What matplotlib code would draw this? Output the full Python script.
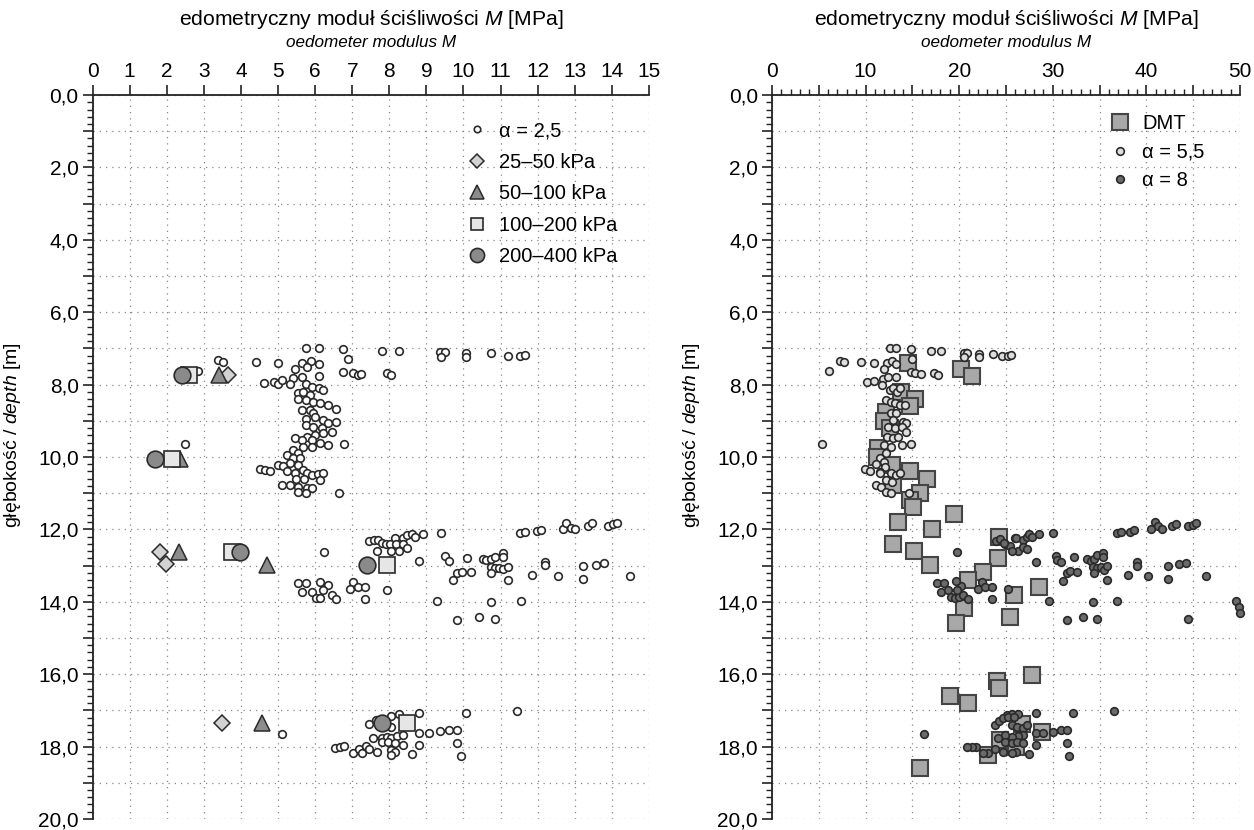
import matplotlib
matplotlib.use('Agg')
import matplotlib.pyplot as plt
from matplotlib.ticker import MultipleLocator, FuncFormatter
import numpy as np

plt.rcParams['font.family'] = ['Liberation Sans', 'DejaVu Sans']
plt.rcParams['mathtext.fontset'] = 'custom'
plt.rcParams['mathtext.rm'] = 'Liberation Sans'
plt.rcParams['mathtext.it'] = 'Liberation Sans:italic'

# (M [MPa], depth [m])
alpha25 = [
    (5.75, 7.00), (6.11, 7.00), (6.76, 7.03), (7.79, 7.06), (8.25, 7.06), (9.37, 7.10), (9.50, 7.10),
    (9.39, 7.25), (10.07, 7.14), (10.07, 7.25), (10.73, 7.14), (11.21, 7.21), (11.52, 7.21), (11.66, 7.17),
    (3.39, 7.32), (3.51, 7.37), (4.41, 7.37), (4.99, 7.40), (6.90, 7.29),
    (5.64, 7.41), (5.89, 7.34), (6.11, 7.44), (5.77, 7.50), (5.46, 7.58), (5.41, 7.83), (5.66, 7.78),
    (6.11, 7.76), (6.76, 7.64), (7.03, 7.67), (7.15, 7.74), (7.24, 7.70), (7.93, 7.69), (8.05, 7.74),
    (2.85, 7.63), (4.63, 7.95), (4.89, 7.94), (4.99, 7.97), (5.10, 7.86), (5.32, 7.98),
    (5.75, 7.99), (5.91, 8.06), (6.11, 8.08), (6.22, 8.15), (5.55, 8.22), (5.68, 8.20), (5.86, 8.29),
    (5.55, 8.41), (5.75, 8.43), (5.93, 8.47), (6.13, 8.52), (6.34, 8.56), (6.55, 8.67), (5.64, 8.70),
    (5.86, 8.70), (5.93, 8.79), (5.75, 8.96), (6.00, 8.90), (6.22, 8.98), (6.36, 9.05), (6.55, 9.04),
    (5.75, 9.12), (5.93, 9.16), (6.18, 9.21), (6.45, 9.30), (6.22, 9.35), (6.00, 9.39), (5.77, 9.44),
    (5.46, 9.48), (5.64, 9.53), (5.91, 9.53), (6.13, 9.60), (6.36, 9.67), (6.78, 9.64), (5.91, 9.71),
    (5.68, 9.73), (5.41, 9.81), (5.55, 9.90), (5.23, 9.95), (5.41, 10.04), (5.59, 10.04), (5.32, 10.16),
    (5.55, 10.22), (5.01, 10.22), (5.14, 10.25), (4.51, 10.34), (4.65, 10.36), (4.78, 10.38),
    (5.23, 10.40), (5.46, 10.43), (5.68, 10.36), (5.77, 10.45), (5.91, 10.50), (6.09, 10.47),
    (6.22, 10.45), (5.49, 10.62), (5.70, 10.62), (6.13, 10.64), (5.10, 10.77), (5.32, 10.77),
    (5.55, 10.82), (5.77, 10.87), (5.91, 10.87), (5.53, 10.96), (5.75, 10.99), (6.65, 10.99), (2.48, 9.64),
    (7.46, 12.31), (7.59, 12.29), (7.70, 12.29), (7.79, 12.37), (7.91, 12.40), (8.02, 12.39),
    (8.15, 12.25), (8.38, 12.25), (8.49, 12.16), (8.60, 12.13), (8.69, 12.20), (8.92, 12.13),
    (9.39, 12.10), (8.17, 12.39), (8.38, 12.39), (8.49, 12.52), (8.26, 12.59), (8.05, 12.59),
    (7.68, 12.59), (6.24, 12.62), (8.81, 12.87), (9.50, 12.74), (9.61, 12.87), (10.09, 12.78),
    (10.52, 12.81), (10.62, 12.85), (10.73, 12.81), (10.85, 12.75), (11.07, 12.64), (11.07, 12.75),
    (10.73, 13.03), (10.85, 13.08), (10.96, 13.08), (11.07, 13.10), (11.21, 13.03), (10.73, 13.21),
    (11.21, 13.40), (9.73, 13.40), (9.83, 13.21), (9.95, 13.17), (10.19, 13.17), (11.85, 13.26),
    (12.20, 12.91), (12.20, 12.98), (12.56, 13.29), (13.21, 13.00), (13.21, 13.36), (13.57, 12.97),
    (13.79, 12.92), (14.49, 13.29), (11.52, 12.09), (11.66, 12.06), (11.97, 12.04), (12.09, 12.02),
    (12.67, 11.99), (12.76, 11.81), (12.89, 11.95), (13.01, 12.00), (13.36, 11.91), (13.47, 11.83),
    (13.90, 11.91), (14.02, 11.86), (14.13, 11.83),
    (5.55, 13.49), (5.75, 13.49), (6.13, 13.44), (6.36, 13.54), (5.64, 13.74), (5.91, 13.74),
    (6.02, 13.89), (6.13, 13.89), (6.22, 13.67), (6.45, 13.81), (6.56, 13.93), (7.03, 13.44),
    (6.94, 13.66), (7.15, 13.58), (7.35, 13.58), (7.35, 13.93), (7.93, 13.67),
    (9.28, 13.97), (10.74, 14.01), (11.54, 13.97), (9.83, 14.50), (10.41, 14.41), (10.85, 14.48),
    (8.27, 17.10), (8.81, 17.06), (10.08, 17.06), (11.43, 17.02), (7.46, 17.38), (7.64, 17.26),
    (8.04, 17.16), (8.05, 17.45), (5.10, 17.65), (7.57, 17.77), (7.79, 17.77), (7.93, 17.73),
    (8.05, 17.77), (8.20, 17.71), (8.38, 17.68), (7.79, 17.86), (7.97, 17.86), (8.15, 17.89),
    (8.38, 17.96), (8.81, 17.62), (9.07, 17.62), (9.38, 17.57), (9.61, 17.54), (9.83, 17.54),
    (9.83, 17.91), (8.81, 17.96), (9.93, 18.25), (8.60, 18.20), (6.54, 18.03), (6.67, 18.00),
    (6.78, 17.98), (7.03, 18.17), (7.17, 18.08), (7.26, 18.17), (7.37, 17.98), (7.46, 18.08),
    (7.68, 18.14), (8.05, 18.09), (8.15, 18.14), (8.05, 18.23),
]
load_25_50 = [(3.66, 7.73), (1.82, 12.62), (1.97, 12.95), (3.50, 17.36)]
load_50_100 = [(3.42, 7.73), (2.36, 10.06), (2.34, 12.62), (4.69, 12.98), (4.56, 17.36)]
load_100_200 = [(2.61, 7.73), (2.13, 10.06), (3.75, 12.62), (7.93, 12.97), (8.47, 17.36)]
load_200_400 = [(2.40, 7.73), (1.68, 10.06), (3.98, 12.62), (7.39, 12.97), (7.80, 17.34)]

dmt = [
    (14.5, 7.39), (20.25, 7.58), (21.4, 7.76), (13.8, 8.20), (15.3, 8.41), (14.7, 8.59), (12.2, 8.75),
    (11.95, 9.00), (12.6, 9.21), (11.3, 9.76), (11.2, 9.99), (12.8, 10.22), (12.9, 10.77), (14.7, 10.38),
    (16.6, 10.61), (15.8, 10.99), (14.7, 11.19), (15.1, 11.39), (19.4, 11.58), (13.5, 11.80),
    (17.1, 11.99), (12.9, 12.39), (15.2, 12.59), (16.9, 12.97), (24.3, 12.20), (24.15, 12.80),
    (22.6, 13.17), (20.9, 13.40), (28.5, 13.58), (25.9, 13.81), (20.5, 14.18), (19.7, 14.59),
    (25.4, 14.41), (27.8, 16.02), (24.0, 16.18), (24.3, 16.39), (19.0, 16.60), (20.9, 16.80),
    (26.7, 17.38), (28.8, 17.61), (24.35, 17.82), (26.1, 18.00), (23.1, 18.23), (15.8, 18.60),
]
alpha55 = [
    (12.66, 7.00), (13.30, 7.00), (14.90, 7.03), (17.04, 7.07), (18.11, 7.07), (20.50, 7.12),
    (20.86, 7.12), (20.50, 7.25), (22.14, 7.16), (22.14, 7.25), (23.57, 7.16), (24.60, 7.21),
    (25.24, 7.21), (25.49, 7.18), (7.31, 7.34), (7.70, 7.37), (9.56, 7.37), (10.88, 7.41),
    (6.10, 7.62), (5.39, 9.64), (12.30, 7.41), (12.87, 7.34), (13.30, 7.43), (11.95, 7.58),
    (15.01, 7.30), (14.90, 7.64), (15.26, 7.69), (15.90, 7.71), (17.29, 7.69), (17.69, 7.74),
    (10.16, 7.94), (10.88, 7.89), (11.88, 7.85), (12.41, 7.78), (13.30, 7.78), (11.77, 8.01),
    (12.59, 8.15), (12.94, 8.10), (13.37, 8.20), (13.66, 8.10), (12.23, 8.43), (12.77, 8.47),
    (13.12, 8.52), (13.66, 8.56), (14.19, 8.56), (12.77, 8.79), (13.30, 8.79), (12.94, 8.98),
    (14.01, 9.02), (14.37, 9.05), (12.41, 9.16), (13.12, 9.21), (13.84, 9.16), (14.37, 9.30),
    (12.30, 9.46), (12.94, 9.48), (13.48, 9.44), (13.94, 9.67), (14.90, 9.64), (11.95, 9.67),
    (12.77, 9.71), (12.23, 9.90), (11.52, 10.04), (11.95, 10.13), (11.16, 10.18), (12.05, 10.27),
    (9.91, 10.34), (10.45, 10.38), (11.52, 10.41), (12.77, 10.45), (13.30, 10.50), (13.66, 10.43),
    (12.16, 10.64), (12.87, 10.68), (11.16, 10.77), (11.70, 10.82), (12.23, 10.96), (12.77, 10.99),
    (14.66, 10.99), (11.59, 10.45),
]
alpha8 = [
    (19.82, 12.62), (23.92, 12.31), (24.35, 12.27), (24.89, 12.39), (25.42, 12.46), (25.96, 12.25),
    (26.31, 12.59), (26.07, 12.25), (26.78, 12.29), (26.78, 12.48), (27.21, 12.20), (27.21, 12.55),
    (27.49, 12.13), (27.74, 12.20), (28.49, 12.14), (30.06, 12.11), (24.78, 12.38), (25.60, 12.59),
    (36.83, 12.11), (37.26, 12.06), (38.26, 12.06), (38.69, 12.02), (40.47, 11.99), (40.94, 11.80),
    (41.29, 11.92), (41.65, 11.99), (42.79, 11.92), (43.15, 11.85), (44.50, 11.92), (45.03, 11.88),
    (45.28, 11.83), (28.21, 12.89), (30.35, 12.73), (30.42, 12.85), (30.85, 12.89), (32.27, 12.77),
    (33.70, 12.82), (34.05, 12.86), (34.41, 12.82), (34.70, 12.71), (35.41, 12.66), (35.41, 12.77),
    (34.34, 13.03), (34.70, 13.08), (35.12, 13.05), (35.48, 13.12), (35.84, 13.01), (31.56, 13.21),
    (31.84, 13.14), (32.56, 13.17), (34.41, 13.21), (31.06, 13.42), (35.84, 13.40), (38.01, 13.26),
    (39.04, 12.91), (39.04, 13.00), (40.15, 13.29), (42.29, 13.00), (42.29, 13.37), (43.50, 12.96),
    (44.22, 12.92), (46.39, 13.29),
    (17.65, 13.47), (18.40, 13.49), (18.11, 13.74), (18.83, 13.67), (19.08, 13.86), (19.54, 13.89),
    (20.00, 13.86), (20.43, 13.81), (20.25, 13.56), (19.61, 13.42), (19.72, 13.67), (20.96, 13.93),
    (21.96, 13.66), (22.39, 13.44), (22.75, 13.58), (23.46, 13.58), (23.46, 13.93), (25.24, 13.66),
    (29.63, 13.97), (34.34, 14.00), (36.83, 13.97), (31.55, 14.50), (33.27, 14.41), (34.69, 14.48),
    (44.40, 14.47), (49.60, 13.98), (49.85, 14.15), (50.00, 14.30),
    (16.22, 17.65), (25.07, 17.13), (25.60, 17.10), (26.31, 17.10), (28.20, 17.06), (32.20, 17.06),
    (36.58, 17.02), (23.82, 17.40), (24.28, 17.28), (24.71, 17.22), (25.24, 17.17), (25.85, 17.17),
    (25.60, 17.40), (26.14, 17.45), (26.78, 17.50), (27.21, 17.40), (26.78, 17.68), (26.31, 17.71),
    (25.60, 17.73), (24.89, 17.68), (24.17, 17.75), (24.89, 17.86), (25.60, 17.91), (26.14, 17.86),
    (26.78, 17.91), (26.06, 18.14), (25.60, 18.17), (24.71, 18.14), (23.82, 18.08), (23.10, 18.17),
    (22.50, 18.17), (21.79, 18.00), (21.32, 18.02), (20.86, 18.02), (27.49, 18.20), (28.20, 17.96),
    (28.20, 17.62), (28.99, 17.62), (30.06, 17.59), (30.84, 17.54), (31.55, 17.54), (31.55, 17.91),
    (31.77, 18.26),
]

EDGE = '#2a2a2a'


def depth_label(v, pos):
    if int(round(v)) % 2 == 0:
        return ('%.1f' % v).replace('.', ',')
    return ''


def style_axis(ax, xmax, major, minor, label_step, ylabel_x):
    ax.set_xlim(0, xmax)
    ax.set_ylim(20, 0)
    ax.xaxis.tick_top()
    ax.spines['right'].set_visible(False)
    ax.spines['bottom'].set_visible(False)
    for s in ('top', 'left'):
        ax.spines[s].set_linewidth(1.3)
        ax.spines[s].set_color('#222')
    ax.xaxis.set_major_locator(MultipleLocator(major))
    if minor:
        ax.xaxis.set_minor_locator(MultipleLocator(minor))
    ax.xaxis.set_major_formatter(FuncFormatter(
        lambda v, p: '%d' % round(v) if int(round(v)) % label_step == 0 else ''))
    ax.yaxis.set_major_locator(MultipleLocator(1))
    ax.yaxis.set_minor_locator(MultipleLocator(0.2))
    ax.yaxis.set_major_formatter(FuncFormatter(depth_label))
    ax.grid(True, which='major', linestyle=(0, (1, 4)), color='#888888', lw=0.9)
    ax.tick_params(axis='both', which='major', direction='out', length=7, width=1.2,
                   labelsize=15, color='#222', pad=3)
    ax.tick_params(axis='both', which='minor', direction='out', length=4, width=1.0, color='#222')
    ax.set_axisbelow(True)
    ax.set_ylabel('głębokość / $\\mathit{depth}$ [m]', fontsize=14)
    ax.yaxis.set_label_coords(ylabel_x, 0.53)


def pts(data):
    a = np.array(data)
    return a[:, 0], a[:, 1]


fig = plt.figure(figsize=(12.54, 8.30), dpi=100)
ax1 = fig.add_axes([0.0738, 0.0133, 0.4437, 0.8722])
ax2 = fig.add_axes([0.6156, 0.0133, 0.3732, 0.8722])

style_axis(ax1, 15, 1, None, 1, -0.125)
style_axis(ax2, 50, 5, 1, 10, -0.15)

for ax in (ax1, ax2):
    cx = (ax.get_position().x0 + ax.get_position().x1) / 2
    fig.text(cx, 0.977, 'edometryczny moduł ściśliwości $\\mathit{M}$ [MPa]',
             ha='center', va='center', fontsize=15.2)
    fig.text(cx, 0.949, 'oedometer modulus M', ha='center', va='center',
             fontsize=12.3, style='italic')

x, y = pts(alpha25)
ax1.plot(x, y, 'o', ms=5.5, mfc='white', mec=EDGE, mew=1.2, ls='none', label='α = 2,5')
x, y = pts(load_25_50)
ax1.plot(x, y, 'D', ms=8.5, mfc='#d2d2d2', mec=EDGE, mew=1.1, ls='none', label='25–50 kPa')
x, y = pts(load_50_100)
ax1.plot(x, y, '^', ms=12, mfc='#8c8c8c', mec=EDGE, mew=1.1, ls='none', label='50–100 kPa')
x, y = pts(load_100_200)
ax1.plot(x, y, 's', ms=11, mfc='#e6e6e6', mec=EDGE, mew=1.2, ls='none', label='100–200 kPa')
x, y = pts(load_200_400)
ax1.plot(x, y, 'o', ms=12, mfc='#8a8a8a', mec=EDGE, mew=1.2, ls='none', label='200–400 kPa')

ax1.legend(loc='upper left', bbox_to_anchor=(0.658, 0.975), frameon=False, fontsize=14.5,
           handlelength=1.0, handletextpad=0.6, labelspacing=0.62, markerscale=0.85,
           borderaxespad=0)

x, y = pts(dmt)
ax2.plot(x, y, 's', ms=11, mfc='#a8a8a8', mec='#444', mew=1.5, ls='none', label='DMT')
x, y = pts(alpha55)
ax2.plot(x, y, 'o', ms=5.5, mfc='#dedede', mec=EDGE, mew=1.2, ls='none', label='α = 5,5',
         clip_on=False)
x, y = pts(alpha8)
ax2.plot(x, y, 'o', ms=5.5, mfc='#6a6a6a', mec=EDGE, mew=1.2, ls='none', label='α = 8',
         clip_on=False)

ax2.legend(loc='upper left', bbox_to_anchor=(0.705, 0.985), frameon=False, fontsize=14.5,
           handlelength=1.0, handletextpad=0.6, labelspacing=0.48, borderaxespad=0)

fig.savefig('out.png', dpi=100)
